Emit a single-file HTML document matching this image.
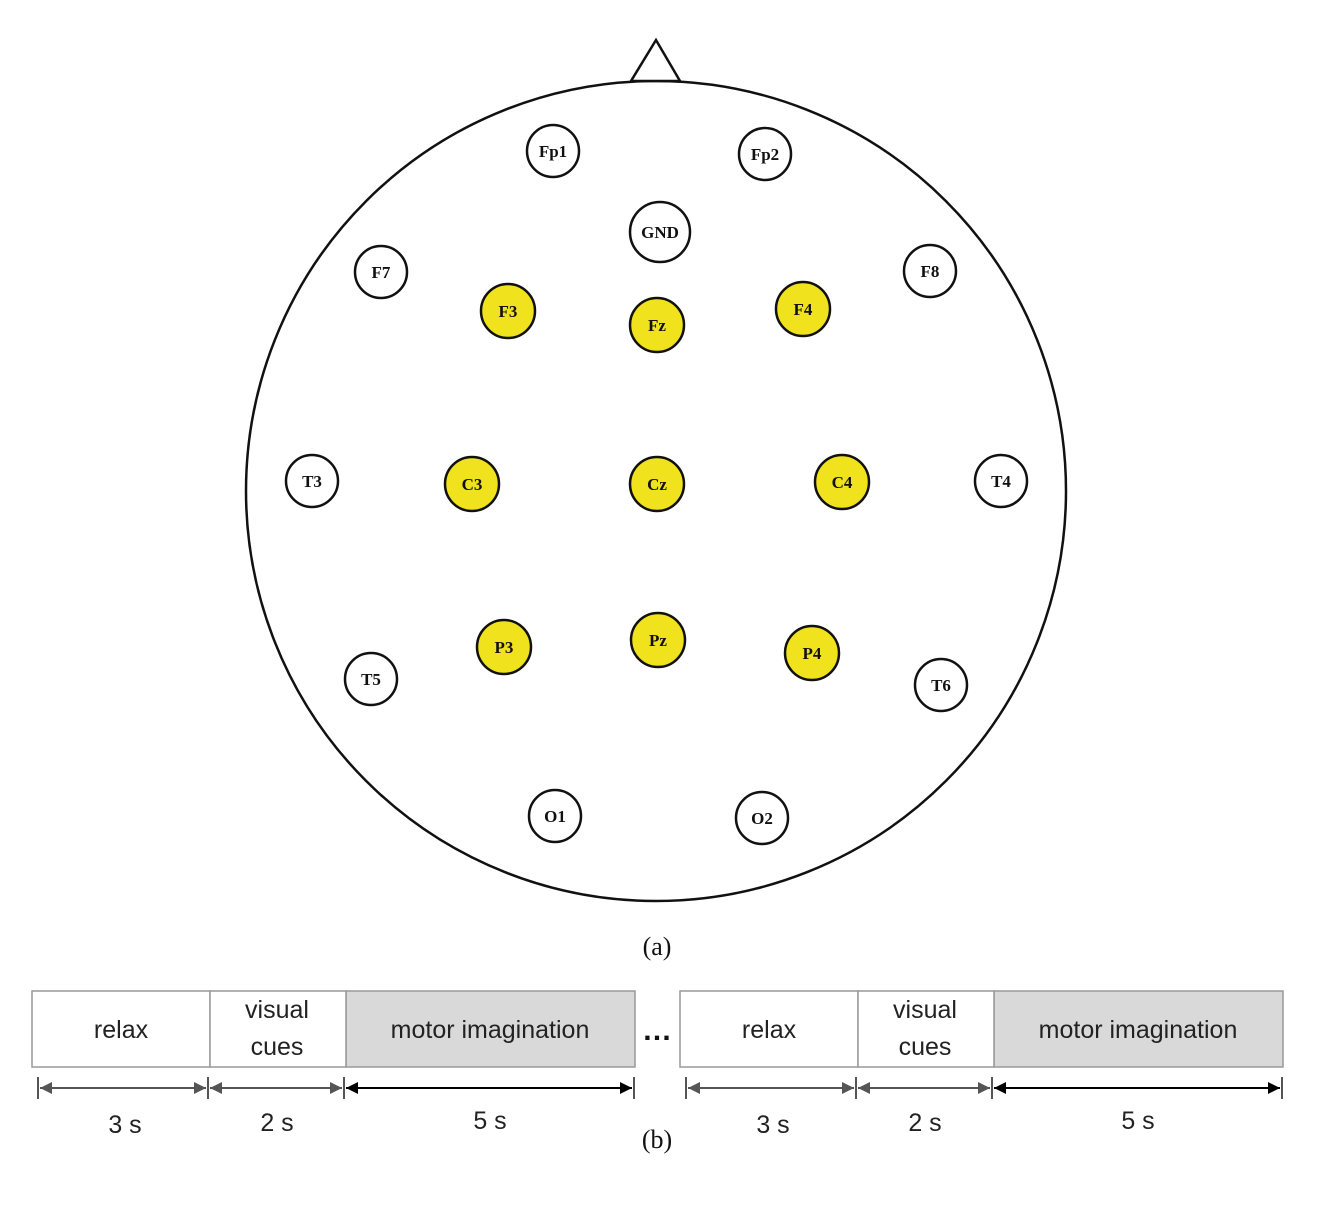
<!DOCTYPE html>
<html><head><meta charset="utf-8"><style>body{margin:0;background:#fff}</style></head><body>
<svg width="1322" height="1219" viewBox="0 0 1322 1219" xmlns="http://www.w3.org/2000/svg">
<circle cx="656" cy="491" r="410" fill="none" stroke="#111" stroke-width="2.5"/>
<polygon points="631,81 656,40 680,81" fill="#fff" stroke="#111" stroke-width="2.5"/>
<g font-family="Liberation Serif, serif" font-weight="bold" font-size="17" text-anchor="middle" stroke="#111" stroke-width="2.5">
<g fill="#fff">
<circle cx="553" cy="151" r="26"/><circle cx="765" cy="154" r="26"/><circle cx="660" cy="232" r="30"/>
<circle cx="381" cy="272" r="26"/><circle cx="930" cy="271" r="26"/><circle cx="312" cy="481" r="26"/>
<circle cx="1001" cy="481" r="26"/><circle cx="371" cy="679" r="26"/><circle cx="941" cy="685" r="26"/>
<circle cx="555" cy="816" r="26"/><circle cx="762" cy="818" r="26"/>
</g>
<g fill="#f0e21c">
<circle cx="508" cy="311" r="27"/><circle cx="657" cy="325" r="27"/><circle cx="803" cy="309" r="27"/>
<circle cx="472" cy="484" r="27"/><circle cx="657" cy="484" r="27"/><circle cx="842" cy="482" r="27"/>
<circle cx="504" cy="647" r="27"/><circle cx="658" cy="640" r="27"/><circle cx="812" cy="653" r="27"/>
</g>
<g fill="#111" stroke="none">
<text x="553" y="157">Fp1</text><text x="765" y="160">Fp2</text><text x="660" y="238">GND</text>
<text x="381" y="278">F7</text><text x="930" y="277">F8</text><text x="312" y="487">T3</text>
<text x="1001" y="487">T4</text><text x="371" y="685">T5</text><text x="941" y="691">T6</text>
<text x="555" y="822">O1</text><text x="762" y="824">O2</text>
<text x="508" y="317">F3</text><text x="657" y="331">Fz</text><text x="803" y="315">F4</text>
<text x="472" y="490">C3</text><text x="657" y="490">Cz</text><text x="842" y="488">C4</text>
<text x="504" y="653">P3</text><text x="658" y="646">Pz</text><text x="812" y="659">P4</text>
</g></g>
<g font-family="Liberation Serif, serif" font-size="26" text-anchor="middle" fill="#111">
<text x="657" y="955">(a)</text><text x="657" y="1148">(b)</text>
</g>
<defs>
<marker id="ag" viewBox="0 0 10 10" refX="10" refY="5" markerWidth="6" markerHeight="6" orient="auto-start-reverse"><path d="M0,0L10,5L0,10z" fill="#555"/></marker>
<marker id="ab" viewBox="0 0 10 10" refX="10" refY="5" markerWidth="6" markerHeight="6" orient="auto-start-reverse"><path d="M0,0L10,5L0,10z" fill="#000"/></marker>
</defs>
<g font-family="Liberation Sans, sans-serif" font-size="25" text-anchor="middle" fill="#222">
<g id="tl">
<rect x="346" y="991" width="289" height="76" fill="#d9d9d9" stroke="#999" stroke-width="1.5"/>
<rect x="32" y="991" width="178" height="76" fill="#fff" stroke="#999" stroke-width="1.5"/>
<rect x="210" y="991" width="136" height="76" fill="#fff" stroke="#999" stroke-width="1.5"/>
<text x="121" y="1038">relax</text><text x="277" y="1018">visual</text><text x="277" y="1055">cues</text>
<text x="490" y="1038">motor imagination</text>
<g stroke="#555" stroke-width="2">
<line x1="38" y1="1077" x2="38" y2="1099"/><line x1="208" y1="1077" x2="208" y2="1099"/><line x1="344" y1="1077" x2="344" y2="1099"/><line x1="634" y1="1077" x2="634" y2="1099"/>
<line x1="40" y1="1088" x2="206" y2="1088" marker-start="url(#ag)" marker-end="url(#ag)"/>
<line x1="210" y1="1088" x2="342" y2="1088" marker-start="url(#ag)" marker-end="url(#ag)"/>
<line x1="346" y1="1088" x2="632" y2="1088" stroke="#000" marker-start="url(#ab)" marker-end="url(#ab)"/>
</g>
<text x="125" y="1133">3 s</text><text x="277" y="1131">2 s</text><text x="490" y="1129">5 s</text>
</g>
<use href="#tl" x="648"/>
<text x="657" y="1040" font-size="30" font-weight="bold" fill="#111">…</text>
</g>
</svg>
</body></html>
